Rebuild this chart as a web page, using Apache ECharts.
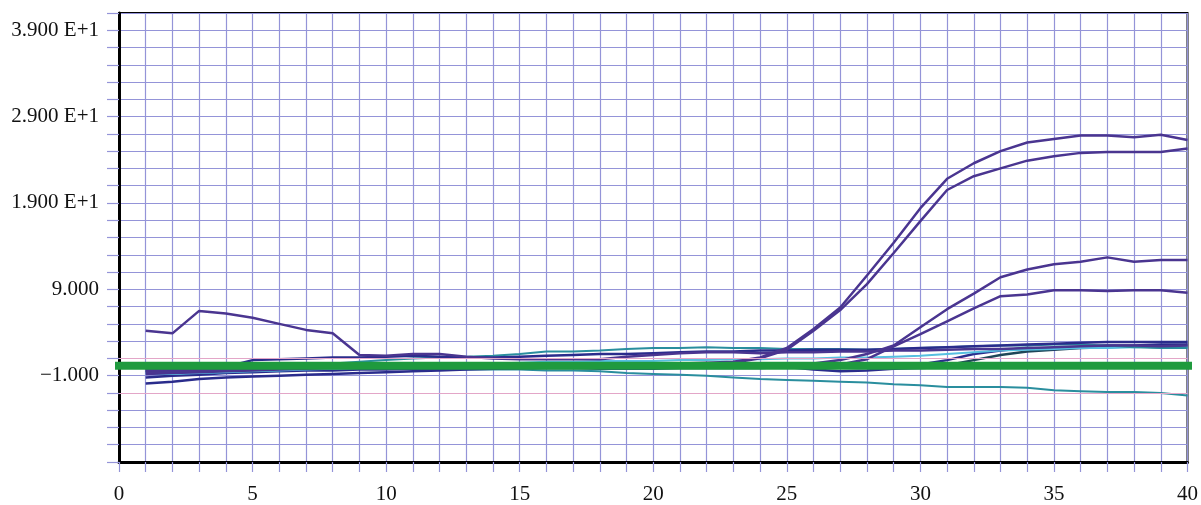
<!DOCTYPE html>
<html>
<head>
<meta charset="utf-8">
<script src="https://cdn.jsdelivr.net/npm/echarts@6/dist/echarts.min.js"></script>
<style>
html,body{margin:0;padding:0;background:#fff;}
#chart{width:1201px;height:505px;}
</style>
</head>
<body>
<div id="chart"></div>
<script>
// Cycles (x values)
const cycles = Array.from({length: 40}, (_, i) => i + 1);

// Y tick labels
const yTickLabels = { '39': '3.900 E+1', '29': '2.900 E+1', '19': '1.900 E+1', '9': '9.000', '-1': '\u22121.000' };

// Amplification curves
const curveA = [-0.3,-0.2,-0.1,0.0,0.0,0.1,0.1,0.1,0.2,0.2, 0.2,0.2,0.3,0.3,0.3,0.3,0.3,0.3,0.4,0.4, 0.4,0.5,0.6,1.1,2.2,4.4,6.9,10.6,14.4,18.4, 21.8,23.6,25.0,26.0,26.4,26.8,26.8,26.6,26.9,26.3];
const curveB = [-0.4,-0.3,-0.2,-0.1,0.0,0.0,0.1,0.1,0.1,0.2, 0.2,0.2,0.2,0.2,0.3,0.3,0.3,0.3,0.3,0.3, 0.3,0.4,0.5,1.0,2.0,4.2,6.6,9.6,13.2,16.9, 20.5,22.1,23.0,23.9,24.4,24.8,24.9,24.9,24.9,25.3];
const curveC = [-0.6,-0.5,-0.4,-0.3,-0.2,-0.1,0.0,0.0,0.1,0.1, 0.1,0.1,0.2,0.2,0.2,0.2,0.2,0.2,0.2,0.2, 0.2,0.2,0.2,0.2,0.2,0.4,0.8,1.5,2.5,4.6, 6.7,8.5,10.4,11.3,11.9,12.2,12.7,12.2,12.4,12.4];
const curveD = [-0.8,-0.7,-0.6,-0.5,-0.4,-0.3,-0.2,-0.1,0.0,0.0, 0.0,0.1,0.1,0.1,0.1,0.1,0.1,0.1,0.1,0.1, 0.1,0.1,0.1,0.1,0.1,0.2,0.3,0.9,2.4,3.8, 5.3,6.8,8.2,8.4,8.9,8.9,8.8,8.9,8.9,8.6];
const curveE = [4.2,3.9,6.5,6.2,5.7,5.0,4.3,3.9,1.4,1.3, 1.5,1.5,1.2,1.0,0.9,0.9,0.9,0.9,1.2,1.4, 1.6,1.7,1.7,1.6,1.7,1.7,1.8,1.8,1.9,1.9, 2.0,2.1,2.1,2.2,2.3,2.4,2.5,2.5,2.4,2.5];
// Baseline traces
const base1 = [-0.4,-0.3,-0.2,0.0,0.8,0.9,1.0,1.1,1.1,1.2, 1.3,1.2,1.1,1.1,1.2,1.3,1.4,1.5,1.5,1.6, 1.7,1.8,1.8,1.9,1.9,2.0,2.0,2.0,2.1,2.2, 2.3,2.4,2.5,2.6,2.7,2.8,2.9,2.9,2.9,2.9];
const base2 = [-0.5,-0.4,-0.3,-0.2,-0.1,0.0,0.2,0.4,0.6,0.8, 1.0,1.1,1.2,1.3,1.5,1.8,1.8,1.9,2.1,2.2, 2.2,2.3,2.2,2.2,2.1,2.1,2.1,2.0,2.1,2.2, 2.3,2.4,2.5,2.5,2.6,2.6,2.5,2.3,2.2,2.2];
const base3 = [-0.8,-0.8,-0.7,-0.6,-0.5,-0.4,-0.3,-0.2,-0.1,0.0, 0.1,0.2,0.3,0.4,0.5,0.6,0.6,0.7,0.7,0.7, 0.8,0.8,0.9,0.9,1.0,1.0,1.1,1.1,1.2,1.3, 1.5,1.7,1.9,2.0,2.1,2.2,2.2,2.3,2.4,2.4];
const base4 = [-1.2,-1.0,-0.9,-0.7,-0.6,-0.5,-0.4,-0.4,-0.3,-0.3, -0.2,-0.2,-0.2,-0.1,-0.1,-0.1,-0.1,-0.2,-0.2,-0.2, -0.1,-0.1,-0.1,-0.1,0.0,-0.3,-0.5,-0.4,-0.2,-0.1, 0.0,0.1,0.1,0.2,0.2,0.3,0.3,0.3,0.3,0.3];
const base5 = [-0.6,-0.6,-0.5,-0.5,-0.4,-0.4,-0.3,-0.3,-0.2,-0.2, -0.2,-0.2,-0.3,-0.3,-0.3,-0.4,-0.4,-0.5,-0.7,-0.8, -0.9,-1.0,-1.2,-1.4,-1.5,-1.6,-1.7,-1.8,-2.0,-2.1, -2.3,-2.3,-2.3,-2.4,-2.7,-2.8,-2.9,-2.9,-3.0,-3.3];
const base6 = [-1.9,-1.7,-1.4,-1.2,-1.1,-1.0,-0.9,-0.8,-0.7,-0.6, -0.5,-0.4,-0.3,-0.2,-0.1,0.0,0.0,0.0,0.1,0.1, 0.1,0.1,0.1,0.2,0.2,0.2,0.2,0.2,0.2,0.3, 0.8,1.5,1.9,2.2,2.1,2.3,2.5,2.5,2.6,2.6];
const base7 = [-0.2,-0.3,-0.3,-0.2,-0.2,-0.1,-0.1,0.0,0.0,0.0, 0.0,0.0,0.0,0.0,0.0,0.0,0.0,0.0,0.0,0.0, 0.0,0.0,0.0,0.0,0.0,0.0,0.0,0.0,0.0,0.0, 0.2,0.8,1.4,1.8,2.0,2.2,2.3,2.4,2.3,2.4];

// Threshold line
const thresholdValue = 0.15;
const thresholdX = [-0.45, 40.4];
const pinkLines = [1, -3];

const purple = '#4a3590';
const navy = '#2a2c8c';
const teal = '#2a8e9e';
const cyan = '#56bfe0';
const slate = '#1f4658';

function mk(name, arr, color, width) {
  return {
    name, type: 'line', data: cycles.map((c, i) => [c, arr[i]]),
    showSymbol: false, symbol: 'none', smooth: false,
    lineStyle: { color, width: width || 2.5 }, z: 3, silent: true
  };
}

const gridColor = '#9494d8';
const chart = echarts.init(document.getElementById('chart'));
chart.setOption({
  animation: false,
  backgroundColor: '#fff',
  grid: { left: 119, right: 8, top: 13, bottom: 38, show: true, borderColor: '#000', borderWidth: 2, backgroundColor: 'transparent' },
  xAxis: {
    type: 'value', min: 0, max: 40, interval: 1,
    axisLine: { show: true, onZero: false, lineStyle: { color: '#000', width: 3 } },
    axisTick: { show: true, inside: false, length: 10, lineStyle: { color: gridColor, width: 1.2 } },
    splitLine: { show: true, lineStyle: { color: gridColor, width: 1.2 } },
    axisLabel: {
      margin: 22, color: '#111', fontFamily: 'Liberation Serif', fontSize: 21,
      formatter: v => (v % 5 === 0 ? String(v) : '')
    }
  },
  yAxis: {
    type: 'value', min: -11, max: 41, interval: 2,
    axisLine: { show: true, lineStyle: { color: '#000', width: 3 } },
    axisTick: { show: true, inside: false, length: 12, lineStyle: { color: gridColor, width: 1.2 } },
    splitLine: { show: true, lineStyle: { color: gridColor, width: 1.2 } },
    axisLabel: {
      margin: 20, color: '#111', fontFamily: 'Liberation Serif', fontSize: 21,
      formatter: v => (yTickLabels[String(Math.round(v))] !== undefined && Math.abs(v - Math.round(v)) < 1e-6 ? yTickLabels[String(Math.round(v))] : '')
    }
  },
  series: [
    {
      name: 'pink', type: 'line', data: [], silent: true,
      markLine: { silent: true, symbol: 'none', label: { show: false },
        lineStyle: { color: '#e3a6c8', width: 1.2, type: 'solid' },
        data: pinkLines.map(v => ({ yAxis: v })) }
    },
    mk('b5', base5, teal, 2),
    mk('b4', base4, navy, 2.5),
    mk('b7', base7, slate, 2.5),
    mk('b6', base6, navy, 2.5),
    mk('b3', base3, cyan, 2),
    mk('b2', base2, teal, 2),
    mk('b1', base1, navy, 2.5),
    mk('E', curveE, purple, 2.5),
    mk('D', curveD, purple, 2.5),
    mk('C', curveC, purple, 2.5),
    mk('B', curveB, purple, 2.5),
    mk('A', curveA, purple, 2.5),
    {
      name: 'threshold', type: 'line', clip: false, showSymbol: false, symbol: 'none', silent: true,
      data: thresholdX.map(x => [x, thresholdValue]),
      lineStyle: { color: '#1f9a3e', width: 8 }, z: 10
    }
  ]
});
</script>
</body>
</html>
